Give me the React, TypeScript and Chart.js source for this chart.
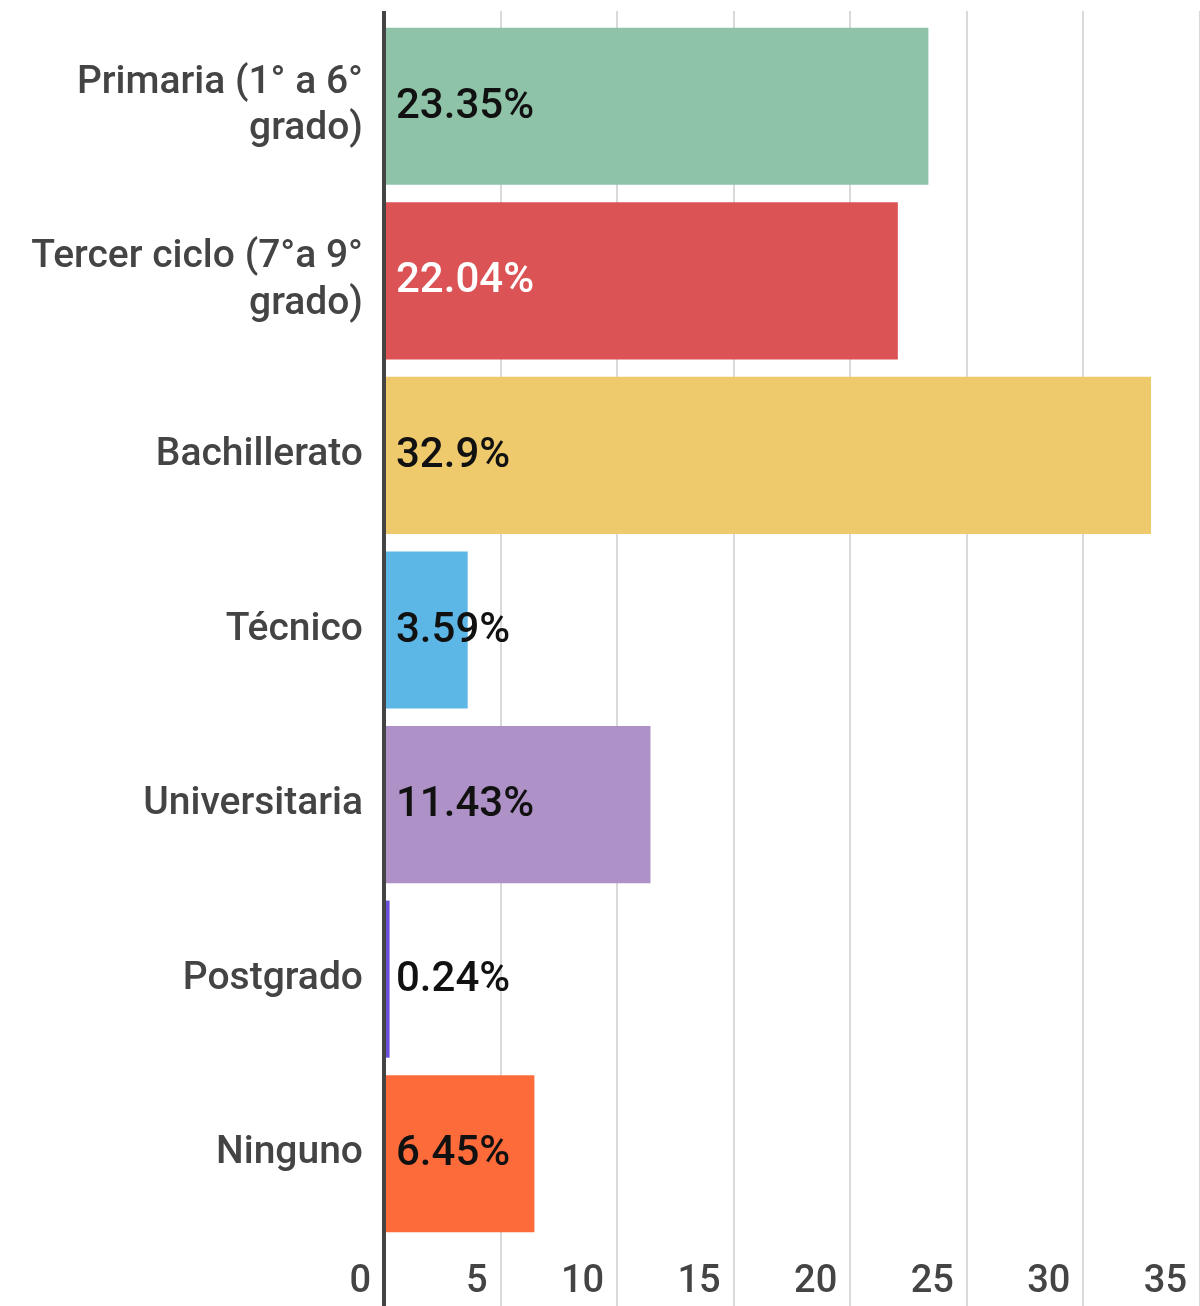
import React, { useEffect, useRef } from "react";
import { Chart, registerables } from "chart.js";

Chart.register(...registerables);

const categories: (string | string[])[] = [
  ["Primaria (1° a 6°", "grado)"],
  ["Tercer ciclo (7°a 9°", "grado)"],
  "Bachillerato",
  "Técnico",
  "Universitaria",
  "Postgrado",
  "Ninguno",
];
const values = [23.35, 22.04, 32.9, 3.59, 11.43, 0.24, 6.45];
const barColors = ["#8fc3a8", "#dc5356", "#efca6c", "#5db7e6", "#ad91c7", "#6a4fdc", "#fd6b3a"];
const valueLabelColors = ["#111111", "#ffffff", "#111111", "#111111", "#111111", "#111111", "#111111"];
const xMin = 0;
const xMax = 35;
const xStep = 5;

const gridColor = (ctx: any) => (ctx.tick && ctx.tick.value === 0 ? "#444444" : "#d9d9d9");
const gridWidth = (ctx: any) => (ctx.tick && ctx.tick.value === 0 ? 4 : 2);

const valueLabelPlugin = {
  id: "valueLabels",
  afterDatasetsDraw(chart: any) {
    const { ctx, chartArea } = chart;
    const meta = chart.getDatasetMeta(0);
    ctx.save();
    ctx.font = "500 42px Roboto";
    ctx.textAlign = "left";
    ctx.textBaseline = "middle";
    meta.data.forEach((bar: any, i: number) => {
      ctx.fillStyle = valueLabelColors[i];
      ctx.fillText(`${values[i]}%`, chartArea.left + 12, bar.y + 1);
    });
    ctx.restore();
  },
};

const zeroPadding = (scale: any) => {
  scale.paddingTop = 0;
  scale.paddingBottom = 0;
  scale.paddingLeft = 0;
  scale.paddingRight = 0;
};

export default function App() {
  const ref = useRef<HTMLCanvasElement | null>(null);
  useEffect(() => {
    if (!ref.current) return;
    const chart = new Chart(ref.current, {
      type: "bar",
      data: {
        labels: categories,
        datasets: [
          {
            data: values,
            backgroundColor: barColors,
            borderWidth: 0,
            categoryPercentage: 0.9,
            barPercentage: 1.0,
          },
        ],
      },
      options: {
        indexAxis: "y",
        animation: false,
        responsive: false,
        devicePixelRatio: 1,
        layout: { padding: { top: 11, left: 0, right: 0, bottom: 0 } },
        plugins: { legend: { display: false }, tooltip: { enabled: false } },
        scales: {
          x: {
            type: "linear",
            position: "bottom",
            min: xMin,
            max: xMax,
            grid: { color: gridColor, lineWidth: gridWidth, tickLength: 65, drawTicks: true },
            border: { display: false },
            ticks: {
              stepSize: xStep,
              align: "end",
              labelOffset: -13,
              padding: -46,
              maxRotation: 0,
              autoSkip: false,
              color: "#444444",
              font: { family: "Roboto", size: 38, weight: "500" },
            },
            afterFit: (scale: any) => {
              scale.height = 65;
              zeroPadding(scale);
            },
          },
          x2: {
            type: "linear",
            position: "top",
            min: xMin,
            max: xMax,
            grid: { color: gridColor, lineWidth: gridWidth, tickLength: 8, drawOnChartArea: false },
            border: { display: false },
            ticks: { stepSize: xStep, display: false },
            afterFit: (scale: any) => {
              scale.height = 8;
              zeroPadding(scale);
            },
          },
          y: {
            type: "category",
            position: "left",
            z: 1,
            grid: { display: false, drawTicks: false },
            border: { display: true, color: "#444444", width: 4 },
            ticks: {
              padding: 21,
              color: "#444444",
              font: { family: "Roboto", size: 39, weight: "500", lineHeight: 1.2 },
              autoSkip: false,
            },
            afterFit: (scale: any) => {
              scale.width = 384;
              zeroPadding(scale);
            },
          },
        },
      },
      plugins: [valueLabelPlugin],
    });
    return () => chart.destroy();
  }, []);

  return (
    <div style={{ position: "absolute", left: 0, top: 0, width: 1200, height: 1306, background: "#ffffff" }}>
      <canvas ref={ref} width={1200} height={1306} style={{ display: "block", width: 1200, height: 1306 }} />
    </div>
  );
}
